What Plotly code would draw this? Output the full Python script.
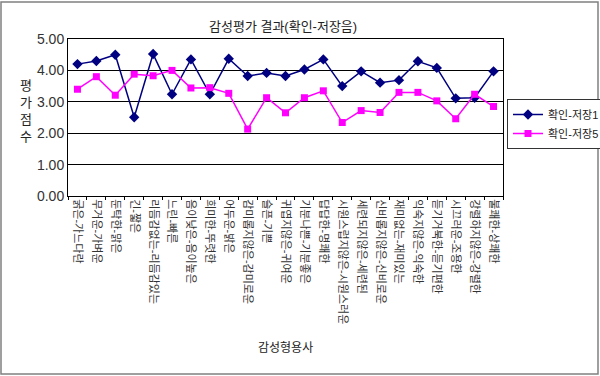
import plotly.graph_objects as go

# Sensory adjective pairs (x categories)
categories = [
    "굵은-가느다란", "무거운-가벼운", "둔탁한-맑은", "긴-짧은",
    "리듬감없는-리듬감있는", "느린-빠른", "음이낮은-음이높은", "희미한-뚜렷한",
    "어두운-밝은", "감미롭지않은-감미로운", "슬픈-기쁜", "귀엽지않은-귀여운",
    "기분나쁜-기분좋은", "답답한-명쾌한", "시원스럽지않은-시원스러운",
    "세련되지않은-세련된", "신비롭지않은-신비로운", "재미없는-재미있는",
    "익숙지않은-익숙한", "듣기거북한-듣기편한", "시끄러운-조용한",
    "강렬하지않은-강렬한", "불쾌한-상쾌한",
]

# Mean evaluation scores
save1 = [4.20, 4.30, 4.50, 2.51, 4.52, 3.24, 4.35, 3.24, 4.37, 3.82, 3.92, 3.82,
         4.03, 4.35, 3.50, 3.97, 3.61, 3.69, 4.29, 4.08, 3.11, 3.13, 3.97]
save5 = [3.40, 3.80, 3.21, 3.88, 3.83, 4.00, 3.44, 3.45, 3.27, 2.13, 3.13, 2.65,
         3.13, 3.35, 2.34, 2.72, 2.66, 3.30, 3.30, 3.03, 2.46, 3.24, 2.85]

y_ticks = [0, 1, 2, 3, 4, 5]

FONT = "Arial, 'Liberation Sans', 'Noto Sans CJK KR', sans-serif"

fig = go.Figure()
fig.add_trace(go.Scatter(
    x=categories, y=save1, name="확인-저장1", mode="lines+markers",
    line=dict(color="#000080", width=1.5),
    marker=dict(symbol="diamond", size=8, color="#000080"),
))
fig.add_trace(go.Scatter(
    x=categories, y=save5, name="확인-저장5", mode="lines+markers",
    line=dict(color="#FF00FF", width=1.5),
    marker=dict(symbol="square", size=7, color="#FF00FF"),
))

L, R, T, B = 68, 97, 39, 180
W, H = 600, 376
pw, ph = W - L - R, H - T - B


def px(x):
    return (x - L) / pw


def py(y):
    return (H - B - y) / ph


fig.update_layout(
    width=W, height=H,
    margin=dict(l=L, r=R, t=T, b=B, autoexpand=False),
    paper_bgcolor="white", plot_bgcolor="white",
    font=dict(family=FONT, color="#222222"),
    showlegend=True,
    legend=dict(
        x=px(507), y=py(99), xanchor="left", yanchor="top",
        bordercolor="#333333", borderwidth=1, bgcolor="white",
        font=dict(size=11, family=FONT, color="#222222"),
        itemwidth=30, tracegroupgap=0,
    ),
    xaxis=dict(
        type="category", range=[-0.5, len(categories) - 0.5],
        showline=True, linecolor="#000000", linewidth=1, mirror=True,
        ticks="outside", tickson="boundaries", ticklen=3, tickcolor="#000000",
        tickangle=90, tickfont=dict(size=11, family=FONT, color="#333333"),
        showgrid=False,
    ),
    yaxis=dict(
        range=[0, 5], tickvals=y_ticks, tickformat=".2f",
        showline=True, linecolor="#000000", linewidth=1, mirror=True,
        showgrid=True, gridcolor="#000000", gridwidth=1,
        ticks="", tickfont=dict(size=14, family=FONT, color="#333333"),
        zeroline=False,
    ),
    annotations=[
        dict(text="감성평가 결과(확인-저장음)", xref="paper", yref="paper",
             x=px(283), y=py(17), showarrow=False,
             font=dict(size=13, family=FONT, color="#222222")),
        dict(text="평<br>가<br>점<br>수", xref="paper", yref="paper",
             x=px(18), y=py(111), showarrow=False,
             font=dict(size=13, family=FONT, color="#222222")),
        dict(text="감성형용사", xref="paper", yref="paper",
             x=px(285), y=py(357), showarrow=False,
             font=dict(size=12, family=FONT, color="#222222")),
    ],
    shapes=[
        dict(type="rect", xref="paper", yref="paper",
             x0=px(1), x1=px(598), y0=py(374), y1=py(2),
             line=dict(color="#808080", width=1.5), layer="below"),
    ],
)

fig.write_html("out.html")
